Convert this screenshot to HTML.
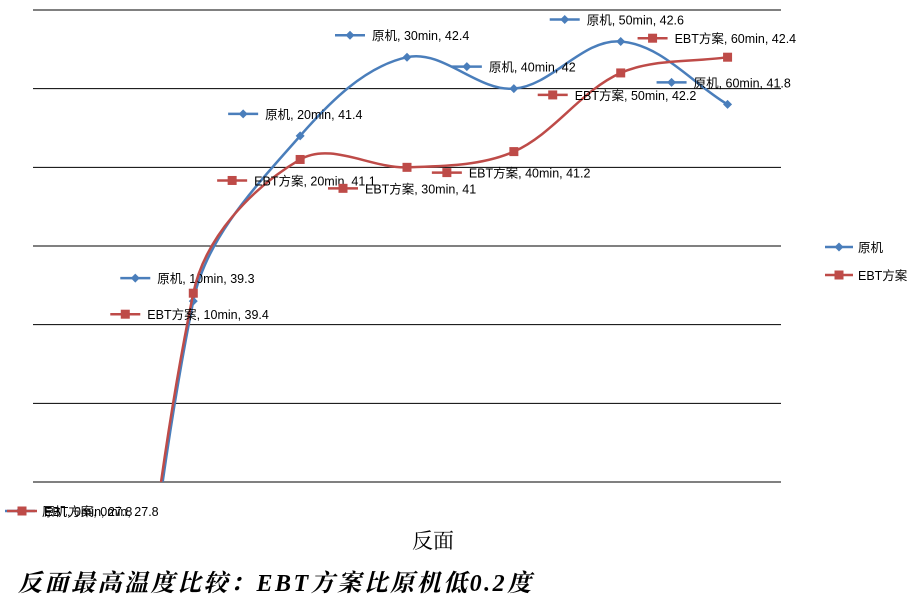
<!DOCTYPE html>
<html><head><meta charset="utf-8"><style>
html,body{margin:0;padding:0;background:#fff;width:914px;height:604px;overflow:hidden}
svg{display:block}
svg text{font-family:"Liberation Sans","Noto Sans CJK SC",sans-serif;font-size:12.5px;fill:#000}
</style></head><body>
<svg id="c" width="914" height="604"></svg>
<script>
const categories=["0min","10min","20min","30min","40min","50min","60min"];
const seriesNames=["原机","EBT方案"];
const yuanji=[27.8,39.3,41.4,42.4,42,42.6,41.8];
const ebt=[27.8,39.4,41.1,41,41.2,42.2,42.4];
const yTicks=[37,38,39,40,41,42,43];
const NS="http://www.w3.org/2000/svg";
const svg=document.getElementById('c');
const L=33,R=781,T=10,B=482,yMin=37,yMax=43;
const x=i=>L+(R-L)/categories.length*(i+0.5);
const y=v=>B-(v-yMin)/(yMax-yMin)*(B-T);
function mk(t,a,p){const e=document.createElementNS(NS,t);for(const k in a)e.setAttribute(k,a[k]);(p||svg).appendChild(e);return e;}
const defs=mk('defs',{});const cp=mk('clipPath',{id:'clip'},defs);mk('rect',{x:0,y:0,width:914,height:B},cp);
yTicks.forEach(t=>{const g=mk('line',{x1:L,x2:R,y1:y(t),y2:y(t),stroke:'#000','stroke-width':1});

});
function tan(pts,i){const a=pts[Math.max(0,i-1)],b=pts[Math.min(pts.length-1,i+1)];const dx=b[0]-a[0],dy=b[1]-a[1];const l=Math.hypot(dx,dy)||1;return [dx/l,dy/l];}
function smooth(pts){let d=`M${pts[0][0]},${pts[0][1]}`;const k=0.33;
for(let i=0;i<pts.length-1;i++){const p1=pts[i],p2=pts[i+1];const len=Math.hypot(p2[0]-p1[0],p2[1]-p1[1]);
const t1=tan(pts,i),t2=tan(pts,i+1);
d+=` C${p1[0]+t1[0]*len*k},${p1[1]+t1[1]*len*k} ${p2[0]-t2[0]*len*k},${p2[1]-t2[1]*len*k} ${p2[0]},${p2[1]}`;}return d;}
const colors=["#4a7ebb","#be4b48"];
const offs=[[[-72,-22],[-73,-23],[-72,-22],[-72,-22],[-62,-22],[-71,-22],[-71,-22]],
[[-83,21],[-83,21],[-83,21],[-79,21],[-82,21],[-83,22],[-90,-19]]];
function marker(s,cx,cy,p){if(s===0){return mk('path',{d:`M${cx},${cy-4.5}L${cx+4.5},${cy}L${cx},${cy+4.5}L${cx-4.5},${cy}Z`,fill:colors[0]},p);}
return mk('rect',{x:cx-4.5,y:cy-4.5,width:9,height:9,fill:colors[1]},p);}
[yuanji,ebt].forEach((data,s)=>{
const pts=data.map((v,i)=>[x(i),y(v)]);
const ln=mk('path',{d:smooth(pts),fill:'none',stroke:colors[s],'stroke-width':2.5,'clip-path':'url(#clip)'});


data.forEach((v,i)=>{
if(i>0){const m=marker(s,x(i),y(v));

}
let kx,ky;if(i===0){kx=5+s*2;ky=511;}else{kx=x(i)+offs[s][i][0];ky=y(v)+offs[s][i][1];}
const g=mk('g',{});


mk('line',{x1:kx,x2:kx+30,y1:ky,y2:ky,stroke:colors[s],'stroke-width':2.5},g);marker(s,kx+15,ky,g);
const t=mk('text',{x:kx+37,y:ky+5},g);t.textContent=`${seriesNames[s]}, ${categories[i]}, ${v}`;
});
const lg=mk('g',{});


const ly=247+s*28;mk('line',{x1:825,x2:853,y1:ly,y2:ly,stroke:colors[s],'stroke-width':2.5},lg);marker(s,839,ly,lg);
const lt=mk('text',{x:858,y:ly+5},lg);lt.textContent=seriesNames[s];
});
const xt=mk('text',{x:433,y:548,'text-anchor':'middle',style:'font-family:"Liberation Serif","Noto Serif CJK SC",serif;font-size:21px'});xt.textContent="反面";


const ct=mk('text',{x:18,y:591,style:'font-family:"Liberation Serif","Noto Serif CJK SC",serif;font-size:24px;font-style:italic;font-weight:bold;letter-spacing:2.5px'});ct.textContent="反面最高温度比较：EBT方案比原机低0.2度";


</script>
</body></html>
